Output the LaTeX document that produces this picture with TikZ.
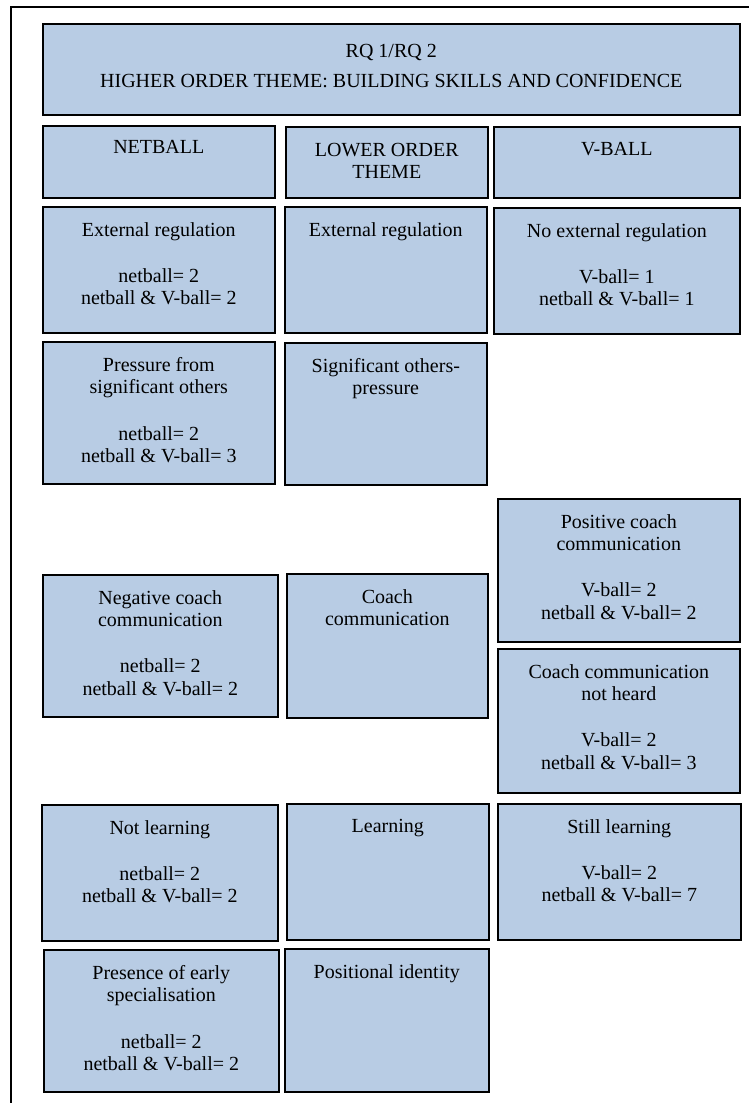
\documentclass[tikz,border=0pt]{standalone}
\usepackage{fontspec}
\setmainfont{Liberation Serif}
\definecolor{cellblue}{HTML}{B8CCE4}

\begin{document}
\begin{tikzpicture}[x=0.5pt, y=-0.5pt]
  \useasboundingbox (0,0) rectangle (749,1103);

  \tikzset{cell/.style 2 args={draw=black, line width=0.8pt, fill=cellblue, anchor=north west,
                               inner sep=0pt, minimum width=#1*0.5pt, minimum height=#2*0.5pt},
           celltext/.style={anchor=north, align=center, inner sep=0pt,
                            font=\fontsize{10}{11.15}\selectfont}}

  % frame round the page
  \draw[line width=0.8pt] (11,1103) -- (11,7) -- (749,7);

  % boxes
  \node[cell={697}{91}]  (rq)       at (42,23)   {};

  \node[cell={232}{72}]  (netball)  at (42,125)  {};
  \node[cell={202}{71}]  (lower)    at (285,126) {};
  \node[cell={246}{71}]  (vball)    at (493,126) {};

  \node[cell={232}{126}] (extnet)   at (42,206)  {};
  \node[cell={202}{126}] (extlow)   at (284,206) {};
  \node[cell={246}{126}] (extvb)    at (493,207) {};

  \node[cell={232}{142}] (pressnet) at (42,341)  {};
  \node[cell={202}{142}] (presslow) at (284,342) {};

  \node[cell={242}{143}] (posvb)    at (497,498) {};
  \node[cell={235}{142}] (negnet)   at (42,574)  {};
  \node[cell={201}{144}] (coachlow) at (286,573) {};
  \node[cell={242}{144}] (heardvb)  at (497,648) {};

  \node[cell={236}{136}] (learnnet) at (41,804)  {};
  \node[cell={202}{136}] (learnlow) at (286,803) {};
  \node[cell={243}{136}] (learnvb)  at (497,803) {};

  \node[cell={235}{142}] (specnet)  at (43,949)  {};
  \node[cell={204}{143}] (poslow)   at (284,948) {};

  % texts
  \node[celltext] (rq-t) at ([yshift=-10.5pt]rq.north)
    {RQ 1/RQ 2\\[3.9pt]HIGHER ORDER THEME: BUILDING SKILLS AND CONFIDENCE};

  \node[celltext] (netball-t) at ([yshift=-7.5pt]netball.north) {NETBALL};
  \node[celltext] (lower-t)   at ([yshift=-8.5pt]lower.north)   {LOWER ORDER\\THEME};
  \node[celltext] (vball-t)   at ([yshift=-8pt]vball.north)     {V-BALL};

  \node[celltext] (extnet-t) at ([yshift=-8pt]extnet.north)
    {External regulation\\[12pt]netball= 2\\netball \& V-ball= 2};
  \node[celltext] (extlow-t) at ([yshift=-8pt]extlow.north) {External regulation};
  \node[celltext] (extvb-t)  at ([yshift=-8pt]extvb.north)
    {No external regulation\\[12pt]V-ball= 1\\netball \& V-ball= 1};

  \node[celltext] (pressnet-t) at ([yshift=-8pt]pressnet.north)
    {Pressure from\\significant others\\[12pt]netball= 2\\netball \& V-ball= 3};
  \node[celltext] (presslow-t) at ([yshift=-8pt]presslow.north)
    {Significant others-\\pressure};

  \node[celltext] (posvb-t) at ([yshift=-8pt]posvb.north)
    {Positive coach\\communication\\[12pt]V-ball= 2\\netball \& V-ball= 2};
  \node[celltext] (negnet-t) at ([yshift=-8pt]negnet.north)
    {Negative coach\\communication\\[12pt]netball= 2\\netball \& V-ball= 2};
  \node[celltext] (coachlow-t) at ([yshift=-8pt]coachlow.north)
    {Coach\\communication};
  \node[celltext] (heardvb-t) at ([yshift=-8pt]heardvb.north)
    {Coach communication\\not heard\\[12pt]V-ball= 2\\netball \& V-ball= 3};

  \node[celltext] (learnnet-t) at ([yshift=-8pt]learnnet.north)
    {Not learning\\[12pt]netball= 2\\netball \& V-ball= 2};
  \node[celltext] (learnlow-t) at ([yshift=-8pt]learnlow.north) {Learning};
  \node[celltext] (learnvb-t)  at ([yshift=-8pt]learnvb.north)
    {Still learning\\[12pt]V-ball= 2\\netball \& V-ball= 7};

  \node[celltext] (specnet-t) at ([yshift=-8pt]specnet.north)
    {Presence of early\\specialisation\\[12pt]netball= 2\\netball \& V-ball= 2};
  \node[celltext] (poslow-t) at ([yshift=-8pt]poslow.north) {Positional identity};
\end{tikzpicture}
\end{document}
